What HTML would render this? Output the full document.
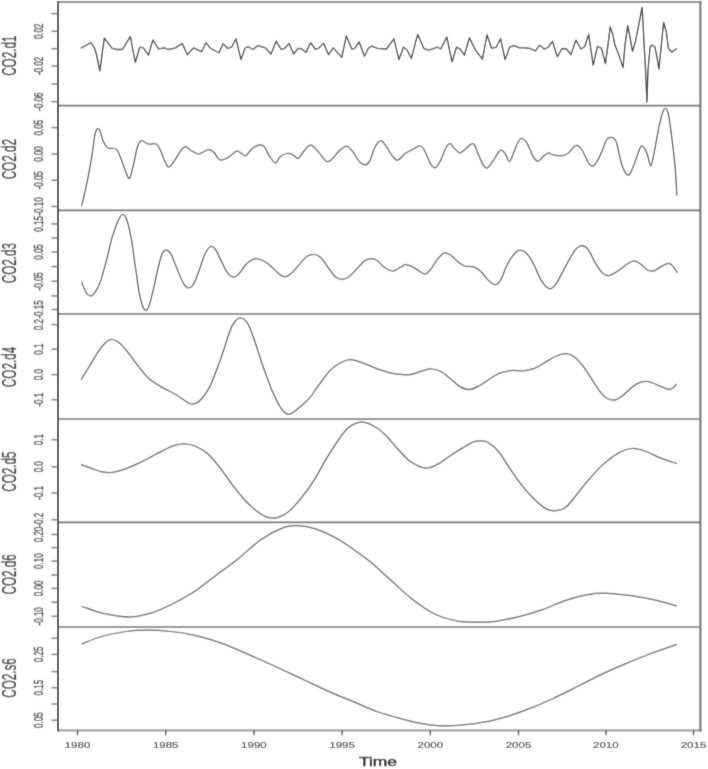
<!DOCTYPE html><html><head><meta charset="utf-8"><style>html,body{margin:0;padding:0;background:#fff;}svg{display:block;}text{font-family:"Liberation Sans",sans-serif;}</style></head><body>
<svg width="708" height="769" viewBox="0 0 708 769">
<defs><filter id="bl" filterUnits="userSpaceOnUse" x="0" y="0" width="708" height="769"><feConvolveMatrix order="3" kernelMatrix="0.0171 0.1258 0.0171 0.0728 0.5345 0.0728 0.0171 0.1258 0.0171" divisor="1" edgeMode="duplicate"/></filter></defs>
<g filter="url(#bl)"><rect x="0" y="0" width="708" height="769" fill="#fff"/>
<g fill="none" stroke="#6a6a6a" stroke-width="1.6">
<line x1="58" y1="105.6" x2="700.4" y2="105.6"/>
<line x1="58" y1="210.4" x2="700.4" y2="210.4"/>
<line x1="58" y1="314" x2="700.4" y2="314"/>
<line x1="58" y1="419" x2="700.4" y2="419"/>
<line x1="58" y1="522.4" x2="700.4" y2="522.4"/>
<line x1="58" y1="627" x2="700.4" y2="627"/>
</g>
<line x1="57.1" y1="2" x2="701.5" y2="2" stroke="#8a8a8a" stroke-width="1.8"/>
<line x1="57.1" y1="730.4" x2="701.5" y2="730.4" stroke="#a2a2a2" stroke-width="2.3"/>
<line x1="700.4" y1="1.1" x2="700.4" y2="731.5" stroke="#7a7a7a" stroke-width="2.2"/>
<line x1="58" y1="1.1" x2="58" y2="731.5" stroke="#444" stroke-width="1.9"/>
<g stroke="#707070" stroke-width="1.4">
<line x1="51.5" y1="13.6" x2="58" y2="13.6"/>
<line x1="51.5" y1="31.3" x2="58" y2="31.3"/>
<line x1="51.5" y1="48.6" x2="58" y2="48.6"/>
<line x1="51.5" y1="66" x2="58" y2="66"/>
<line x1="51.5" y1="84" x2="58" y2="84"/>
<line x1="51.5" y1="101.6" x2="58" y2="101.6"/>
<line x1="51.5" y1="127.6" x2="58" y2="127.6"/>
<line x1="51.5" y1="154" x2="58" y2="154"/>
<line x1="51.5" y1="180.3" x2="58" y2="180.3"/>
<line x1="51.5" y1="206.5" x2="58" y2="206.5"/>
<line x1="51.5" y1="223.9" x2="58" y2="223.9"/>
<line x1="51.5" y1="238" x2="58" y2="238"/>
<line x1="51.5" y1="252" x2="58" y2="252"/>
<line x1="51.5" y1="266.6" x2="58" y2="266.6"/>
<line x1="51.5" y1="281.3" x2="58" y2="281.3"/>
<line x1="51.5" y1="295.9" x2="58" y2="295.9"/>
<line x1="51.5" y1="309.5" x2="58" y2="309.5"/>
<line x1="51.5" y1="324.6" x2="58" y2="324.6"/>
<line x1="51.5" y1="349.2" x2="58" y2="349.2"/>
<line x1="51.5" y1="374.6" x2="58" y2="374.6"/>
<line x1="51.5" y1="399.7" x2="58" y2="399.7"/>
<line x1="51.5" y1="439.7" x2="58" y2="439.7"/>
<line x1="51.5" y1="466.8" x2="58" y2="466.8"/>
<line x1="51.5" y1="493" x2="58" y2="493"/>
<line x1="51.5" y1="519.8" x2="58" y2="519.8"/>
<line x1="51.5" y1="534.5" x2="58" y2="534.5"/>
<line x1="51.5" y1="547.6" x2="58" y2="547.6"/>
<line x1="51.5" y1="561.1" x2="58" y2="561.1"/>
<line x1="51.5" y1="575" x2="58" y2="575"/>
<line x1="51.5" y1="588.4" x2="58" y2="588.4"/>
<line x1="51.5" y1="602.2" x2="58" y2="602.2"/>
<line x1="51.5" y1="616.3" x2="58" y2="616.3"/>
<line x1="51.5" y1="638.2" x2="58" y2="638.2"/>
<line x1="51.5" y1="654.4" x2="58" y2="654.4"/>
<line x1="51.5" y1="671.6" x2="58" y2="671.6"/>
<line x1="51.5" y1="687.7" x2="58" y2="687.7"/>
<line x1="51.5" y1="704" x2="58" y2="704"/>
<line x1="51.5" y1="720.2" x2="58" y2="720.2"/>
</g>
<g stroke="#505050" stroke-width="1.4">
<line x1="77.5" y1="730.2" x2="77.5" y2="735.2"/>
<line x1="165.7" y1="730.2" x2="165.7" y2="735.2"/>
<line x1="253.9" y1="730.2" x2="253.9" y2="735.2"/>
<line x1="342.1" y1="730.2" x2="342.1" y2="735.2"/>
<line x1="430.3" y1="730.2" x2="430.3" y2="735.2"/>
<line x1="518.5" y1="730.2" x2="518.5" y2="735.2"/>
<line x1="605.9" y1="730.2" x2="605.9" y2="735.2"/>
<line x1="693.5" y1="730.2" x2="693.5" y2="735.2"/>
</g>
<g fill="#444" stroke="#444" stroke-width="0.25" font-size="8.0" text-anchor="middle">
<text transform="translate(42.7,31.3) rotate(-90) scale(1,1.66)" x="0" y="0">0.02</text>
<text transform="translate(42.7,66) rotate(-90) scale(1,1.66)" x="0" y="0">-0.02</text>
<text transform="translate(42.7,101.6) rotate(-90) scale(1,1.66)" x="0" y="0">-0.06</text>
<text transform="translate(42.7,127.6) rotate(-90) scale(1,1.66)" x="0" y="0">0.05</text>
<text transform="translate(42.7,154) rotate(-90) scale(1,1.66)" x="0" y="0">0.00</text>
<text transform="translate(42.7,180.3) rotate(-90) scale(1,1.66)" x="0" y="0">-0.05</text>
<text transform="translate(42.7,206.5) rotate(-90) scale(1,1.66)" x="0" y="0">-0.10</text>
<text transform="translate(42.7,223.9) rotate(-90) scale(1,1.66)" x="0" y="0">0.15</text>
<text transform="translate(42.7,252) rotate(-90) scale(1,1.66)" x="0" y="0">0.05</text>
<text transform="translate(42.7,281.3) rotate(-90) scale(1,1.66)" x="0" y="0">-0.05</text>
<text transform="translate(42.7,309.5) rotate(-90) scale(1,1.66)" x="0" y="0">-0.15</text>
<text transform="translate(42.7,324.6) rotate(-90) scale(1,1.66)" x="0" y="0">0.2</text>
<text transform="translate(42.7,349.2) rotate(-90) scale(1,1.66)" x="0" y="0">0.1</text>
<text transform="translate(42.7,374.6) rotate(-90) scale(1,1.66)" x="0" y="0">0.0</text>
<text transform="translate(42.7,399.7) rotate(-90) scale(1,1.66)" x="0" y="0">-0.1</text>
<text transform="translate(42.7,439.7) rotate(-90) scale(1,1.66)" x="0" y="0">0.1</text>
<text transform="translate(42.7,466.8) rotate(-90) scale(1,1.66)" x="0" y="0">0.0</text>
<text transform="translate(42.7,493) rotate(-90) scale(1,1.66)" x="0" y="0">-0.1</text>
<text transform="translate(42.7,519.8) rotate(-90) scale(1,1.66)" x="0" y="0">-0.2</text>
<text transform="translate(42.7,534.5) rotate(-90) scale(1,1.66)" x="0" y="0">0.20</text>
<text transform="translate(42.7,561.1) rotate(-90) scale(1,1.66)" x="0" y="0">0.10</text>
<text transform="translate(42.7,588.4) rotate(-90) scale(1,1.66)" x="0" y="0">0.00</text>
<text transform="translate(42.7,616.3) rotate(-90) scale(1,1.66)" x="0" y="0">-0.10</text>
<text transform="translate(42.7,654.4) rotate(-90) scale(1,1.66)" x="0" y="0">0.25</text>
<text transform="translate(42.7,687.7) rotate(-90) scale(1,1.66)" x="0" y="0">0.15</text>
<text transform="translate(42.7,720.2) rotate(-90) scale(1,1.66)" x="0" y="0">0.05</text>
<text transform="translate(77.5,747.9) scale(1.28,1)" font-size="9" stroke-width="0.15">1980</text>
<text transform="translate(165.7,747.9) scale(1.28,1)" font-size="9" stroke-width="0.15">1985</text>
<text transform="translate(253.9,747.9) scale(1.28,1)" font-size="9" stroke-width="0.15">1990</text>
<text transform="translate(342.1,747.9) scale(1.28,1)" font-size="9" stroke-width="0.15">1995</text>
<text transform="translate(430.3,747.9) scale(1.28,1)" font-size="9" stroke-width="0.15">2000</text>
<text transform="translate(518.5,747.9) scale(1.28,1)" font-size="9" stroke-width="0.15">2005</text>
<text transform="translate(605.9,747.9) scale(1.28,1)" font-size="9" stroke-width="0.15">2010</text>
<text transform="translate(693.5,747.9) scale(1.28,1)" font-size="9" stroke-width="0.15">2015</text>
</g>
<g fill="#3a3a3a" stroke="#3a3a3a" stroke-width="0.2" font-size="11.7" text-anchor="middle">
<text transform="translate(15.5,55.699999999999996) rotate(-90) scale(1,1.7)">CO2.d1</text>
<text transform="translate(15.5,159.20000000000002) rotate(-90) scale(1,1.7)">CO2.d2</text>
<text transform="translate(15.5,263.09999999999997) rotate(-90) scale(1,1.7)">CO2.d3</text>
<text transform="translate(15.5,367.0) rotate(-90) scale(1,1.7)">CO2.d4</text>
<text transform="translate(15.5,471.59999999999997) rotate(-90) scale(1,1.7)">CO2.d5</text>
<text transform="translate(15.5,574.4) rotate(-90) scale(1,1.7)">CO2.d6</text>
<text transform="translate(15.5,678.0) rotate(-90) scale(1,1.7)">CO2.s6</text>
</g>
<text transform="translate(378,766) scale(1.4,1)" font-size="12.5" fill="#2a2a2a" stroke="#2a2a2a" stroke-width="0.45" text-anchor="middle">Time</text>
<g fill="none" stroke="#3c3c3c" stroke-width="1.3" stroke-linejoin="round" stroke-linecap="round">
<path d="M81.3,47.9 L90.8,42.7 L94.2,47.2 L96.4,54.0 L99.8,70.9 L104.3,38.2 L112.2,48.3 L116.8,49.5 L122.4,49.5 L130.3,36.6 L135.3,62.3 L139.8,47.2 L143.4,47.9 L148.4,55.1 L152.9,40.0 L158.6,48.8 L164.2,47.9 L168.7,49.5 L175.5,47.9 L182.3,43.4 L187.3,54.7 L193.6,47.9 L201.5,51.7 L206.0,42.7 L210.5,48.3 L219.0,52.8 L223.1,43.8 L227.6,48.3 L231.5,47.2 L236.0,38.8 L241.0,59.6 L245.0,48.3 L248.0,46.7 L252.9,49.5 L258.1,45.6 L265.4,47.9 L271.0,54.0 L276.2,41.1 L281.2,49.5 L284.6,48.3 L289.1,43.4 L293.6,54.0 L298.1,48.3 L301.5,48.8 L306.0,52.4 L310.6,42.7 L315.1,49.0 L318.5,48.3 L323.7,43.4 L328.6,54.7 L333.2,47.9 L341.8,57.4 L346.3,35.9 L351.9,49.0 L354.6,48.3 L359.2,42.0 L364.4,56.2 L368.4,48.3 L371.8,46.1 L377.4,48.3 L386.5,49.0 L393.9,38.8 L398.9,59.6 L403.4,47.2 L406.8,49.5 L411.3,58.5 L417.7,34.3 L423.8,48.3 L428.3,50.1 L432.8,48.8 L437.3,47.2 L440.7,49.0 L446.8,37.0 L452.0,61.9 L456.5,47.2 L459.9,48.8 L464.4,55.1 L469.4,37.7 L475.7,50.6 L482.5,59.0 L487.0,34.8 L491.6,48.3 L496.1,47.2 L500.6,38.8 L505.1,59.6 L509.6,47.2 L514.2,45.6 L519.8,47.9 L525.1,47.8 L530.2,48.5 L535.3,50.8 L539.8,45.2 L544.2,49.0 L548.0,47.3 L552.5,41.4 L557.4,56.7 L562.0,48.5 L566.5,49.0 L570.9,54.6 L575.9,40.1 L581.0,49.0 L584.8,46.5 L588.7,34.5 L593.2,65.1 L597.5,46.5 L600.9,47.8 L602.0,50.0 L605.4,63.6 L607.4,49.4 L610.2,27.0 L612.9,34.5 L614.9,45.3 L618.3,53.4 L623.0,67.6 L625.0,45.3 L627.7,25.7 L629.8,35.8 L632.5,51.4 L635.2,42.6 L638.6,25.7 L640.6,15.5 L642.0,7.4 L643.0,22.3 L644.0,42.6 L645.3,65.6 L646.7,95.4 L646.9,102.0 L648.0,69.7 L650.1,46.7 L652.1,45.0 L654.8,46.7 L656.8,56.1 L658.9,69.0 L660.9,49.4 L663.6,22.3 L666.3,31.8 L668.3,48.0 L671.7,52.1 L676.5,48.7"/>
</g>
<g fill="none" stroke="#555" stroke-width="1.25" stroke-linejoin="round" stroke-linecap="round">
<path d="M81.7,205.4 C82.7,201.3 85.7,188.9 87.4,180.6 C89.1,172.3 90.6,163.6 91.9,155.7 C93.2,147.8 94.1,137.5 95.3,133.1 C96.5,128.7 97.8,128.0 99.1,129.3 C100.4,130.6 101.8,137.9 103.2,141.0 C104.6,144.1 105.8,146.6 107.7,147.8 C109.6,149.1 112.8,147.9 114.5,148.5 C116.2,149.1 116.6,148.9 117.9,151.2 C119.2,153.5 120.9,158.6 122.4,162.5 C123.9,166.4 125.7,172.3 126.9,174.9 C128.2,177.5 128.8,179.8 129.9,177.9 C131.0,176.0 132.4,168.8 133.7,163.6 C135.0,158.4 136.2,150.5 137.5,146.7 C138.8,142.9 139.8,141.0 141.6,140.6 C143.4,140.2 145.9,143.4 148.4,144.0 C150.9,144.6 154.2,142.8 156.3,144.0 C158.4,145.2 159.3,148.1 160.8,151.2 C162.3,154.3 163.9,159.9 165.3,162.5 C166.7,165.1 167.5,167.6 169.2,167.0 C170.9,166.4 173.5,161.9 175.5,159.1 C177.5,156.3 179.5,152.2 181.2,150.1 C182.9,148.0 184.0,146.6 185.7,146.7 C187.4,146.8 189.2,149.5 191.3,150.7 C193.4,151.9 196.2,153.6 198.1,153.9 C200.0,154.2 200.9,153.0 202.6,152.3 C204.3,151.6 206.4,149.6 208.3,149.6 C210.2,149.6 212.3,150.8 213.9,152.3 C215.5,153.8 216.8,157.1 218.0,158.4 C219.2,159.7 219.6,160.3 221.3,160.2 C223.0,160.0 225.5,159.0 228.1,157.5 C230.7,156.0 234.4,151.9 236.7,151.2 C238.9,150.5 240.1,152.8 241.6,153.5 C243.1,154.2 244.0,156.5 245.7,155.7 C247.4,154.9 249.5,150.7 251.8,148.9 C254.1,147.1 257.6,145.3 259.7,144.9 C261.8,144.5 262.5,144.7 264.2,146.7 C265.9,148.7 268.0,154.1 269.9,156.8 C271.8,159.5 273.8,163.0 275.5,163.0 C277.2,163.0 278.2,158.4 280.1,156.8 C282.0,155.2 284.7,153.9 286.8,153.5 C288.9,153.1 290.6,153.8 292.5,154.6 C294.4,155.4 296.2,159.0 298.1,158.4 C300.0,157.8 301.7,153.4 303.8,151.2 C305.9,149.0 308.2,145.0 310.6,145.1 C313.1,145.2 315.9,149.2 318.5,151.9 C321.1,154.6 324.1,160.2 326.4,161.4 C328.6,162.6 329.9,160.8 332.0,159.1 C334.1,157.4 336.4,153.4 338.8,151.2 C341.2,149.0 344.4,146.0 346.7,146.0 C349.0,146.0 350.3,148.6 352.4,151.2 C354.5,153.8 357.1,159.1 359.2,161.4 C361.3,163.7 363.1,164.8 364.8,164.8 C366.5,164.8 367.8,164.4 369.5,161.4 C371.2,158.4 373.3,150.2 375.2,146.7 C377.1,143.2 378.9,140.6 380.8,140.6 C382.7,140.6 384.6,144.2 386.5,146.7 C388.4,149.2 390.2,153.4 392.1,155.7 C394.0,157.9 395.7,160.5 397.8,160.2 C399.9,159.9 402.1,155.9 404.5,154.1 C406.9,152.3 409.9,150.8 412.5,149.4 C415.1,148.1 418.3,145.7 420.4,146.0 C422.5,146.3 423.2,148.3 424.9,151.2 C426.6,154.1 428.7,160.8 430.5,163.6 C432.3,166.3 433.8,168.3 435.5,167.7 C437.2,167.1 438.9,163.7 440.7,160.2 C442.5,156.7 444.8,149.4 446.4,146.7 C448.0,143.9 449.0,143.3 450.4,143.7 C451.8,144.1 453.3,147.4 454.9,148.9 C456.5,150.4 458.1,152.8 459.9,152.8 C461.7,152.8 463.4,150.4 465.6,148.9 C467.8,147.4 470.9,142.9 473.0,143.7 C475.1,144.5 476.4,150.2 478.0,153.5 C479.6,156.8 481.0,161.2 482.5,163.6 C484.0,166.0 485.3,168.5 487.0,168.1 C488.7,167.7 490.5,164.3 492.7,161.4 C494.9,158.5 498.0,151.8 500.1,150.5 C502.2,149.2 503.5,151.7 505.1,153.5 C506.7,155.3 508.1,161.8 509.6,161.4 C511.1,161.0 512.7,154.6 514.2,151.2 C515.7,147.8 517.3,143.1 518.7,141.0 C520.1,138.9 521.0,138.0 522.5,138.5 C524.0,139.0 525.9,141.2 527.6,144.1 C529.3,146.9 531.0,152.7 532.7,155.6 C534.4,158.5 536.1,161.2 537.8,161.4 C539.5,161.6 541.2,158.3 542.9,156.9 C544.6,155.5 546.1,153.3 548.0,153.0 C549.9,152.7 551.8,154.7 554.3,155.1 C556.8,155.5 560.9,155.9 563.2,155.6 C565.5,155.2 566.1,154.7 568.3,153.0 C570.5,151.3 574.1,145.8 576.4,145.4 C578.7,145.0 580.3,147.5 582.3,150.5 C584.3,153.5 586.7,160.6 588.6,163.2 C590.5,165.8 591.8,167.1 593.7,165.8 C595.6,164.5 598.0,159.8 600.1,155.6 C602.2,151.3 604.6,143.4 606.4,140.3 C608.2,137.2 609.4,137.1 611.0,137.3 C612.6,137.5 614.3,137.1 616.1,141.6 C617.9,146.1 619.7,158.9 621.7,164.5 C623.7,170.1 626.2,174.8 628.1,175.2 C630.0,175.6 631.2,171.3 633.1,167.0 C635.0,162.7 637.9,152.7 639.5,149.2 C641.1,145.7 641.3,145.4 642.6,146.2 C643.9,147.0 645.7,150.5 647.1,153.8 C648.5,157.1 649.6,166.6 650.9,165.8 C652.2,165.0 653.4,156.0 654.8,149.2 C656.2,142.4 657.8,131.7 659.3,125.1 C660.8,118.5 662.2,111.9 663.7,109.8 C665.2,107.7 666.6,107.5 668.0,112.4 C669.4,117.3 670.8,130.0 672.0,139.1 C673.2,148.2 674.3,157.7 675.1,167.0 C675.9,176.3 676.6,190.3 676.9,195.0"/>
<path d="M81.7,282.3 C82.5,284.0 84.6,290.2 86.2,292.5 C87.8,294.8 89.7,296.3 91.4,295.9 C93.1,295.5 94.8,292.8 96.4,290.2 C98.0,287.6 99.2,285.2 100.9,280.1 C102.6,275.0 104.7,266.9 106.6,259.7 C108.5,252.5 110.3,243.5 112.2,237.1 C114.1,230.7 116.2,225.1 117.9,221.3 C119.6,217.5 120.9,214.7 122.4,214.5 C123.9,214.3 125.4,216.0 126.9,220.2 C128.4,224.3 129.9,230.9 131.4,239.4 C132.9,247.9 134.6,261.6 136.0,271.0 C137.4,280.4 138.4,289.5 139.8,295.9 C141.2,302.3 142.9,307.5 144.3,309.4 C145.7,311.3 147.0,310.2 148.4,307.2 C149.8,304.2 151.4,297.4 152.9,291.4 C154.4,285.4 155.9,277.2 157.4,271.0 C158.9,264.8 160.5,257.6 162.0,254.1 C163.5,250.6 165.0,250.2 166.5,250.2 C168.0,250.2 169.3,251.2 171.0,254.1 C172.7,257.0 174.7,263.1 176.6,267.6 C178.5,272.1 180.6,277.9 182.3,281.2 C184.0,284.5 185.1,286.6 186.8,287.3 C188.5,288.1 190.6,288.0 192.5,285.7 C194.4,283.4 196.1,278.4 198.1,273.3 C200.1,268.2 202.3,259.7 204.4,255.2 C206.5,250.7 208.7,247.5 210.5,246.5 C212.3,245.5 213.5,247.0 215.1,249.0 C216.7,251.0 218.2,254.8 220.2,258.6 C222.2,262.5 224.8,269.0 227.0,272.1 C229.2,275.2 231.6,276.9 233.7,277.1 C235.8,277.3 237.3,275.5 239.4,273.3 C241.5,271.1 243.6,266.6 246.2,264.2 C248.8,261.8 252.4,259.2 255.2,258.6 C258.0,258.0 260.7,259.7 263.1,260.8 C265.6,261.9 267.4,263.4 269.9,265.4 C272.3,267.4 275.4,270.9 277.8,272.8 C280.2,274.7 282.3,276.6 284.6,276.7 C286.9,276.8 288.8,275.6 291.4,273.3 C294.0,271.0 297.8,265.9 300.4,263.1 C303.0,260.3 304.9,257.7 307.2,256.3 C309.5,254.9 312.1,254.3 314.4,254.5 C316.6,254.7 318.5,255.5 320.7,257.5 C322.9,259.5 325.1,263.3 327.5,266.5 C329.9,269.7 332.9,274.6 335.4,276.7 C337.8,278.8 339.9,279.4 342.2,279.4 C344.5,279.4 346.6,278.5 349.0,276.7 C351.4,274.9 354.3,271.4 356.9,268.8 C359.5,266.2 362.3,262.5 364.8,260.8 C367.3,259.1 369.7,258.6 371.8,258.6 C373.9,258.6 375.3,259.4 377.4,260.8 C379.5,262.2 381.8,265.5 384.2,267.2 C386.6,268.9 389.7,270.8 392.1,271.0 C394.6,271.2 396.7,269.4 398.9,268.3 C401.1,267.2 402.9,264.9 405.2,264.7 C407.5,264.5 410.2,265.8 412.5,266.9 C414.8,267.9 417.1,269.8 419.2,271.0 C421.3,272.2 423.2,274.0 424.9,274.0 C426.6,274.0 427.3,273.4 429.4,271.0 C431.5,268.6 434.9,262.7 437.3,259.7 C439.8,256.7 441.8,253.7 444.1,252.9 C446.4,252.2 448.6,253.8 450.9,255.2 C453.2,256.6 455.4,259.7 457.7,261.5 C459.9,263.3 461.8,265.1 464.4,266.0 C467.0,266.9 470.9,266.1 473.5,266.9 C476.1,267.7 477.9,268.8 480.3,271.0 C482.8,273.2 485.8,277.8 488.2,280.1 C490.6,282.4 492.8,284.6 494.9,284.6 C497.0,284.6 498.5,283.5 500.6,280.1 C502.7,276.7 505.1,268.5 507.4,264.2 C509.7,259.9 512.1,256.4 514.2,254.1 C516.3,251.8 517.8,250.3 519.8,250.2 C521.8,250.0 524.0,250.8 526.4,253.2 C528.8,255.6 531.5,260.0 534.0,264.7 C536.5,269.4 538.9,277.2 541.6,281.2 C544.3,285.2 547.5,288.6 550.0,288.8 C552.5,289.0 554.3,286.3 556.9,282.5 C559.5,278.7 562.8,271.2 565.8,265.9 C568.8,260.6 572.1,254.1 574.7,250.7 C577.3,247.3 579.3,245.8 581.5,245.6 C583.7,245.4 585.6,246.2 588.1,249.4 C590.6,252.6 593.9,260.8 596.3,264.7 C598.7,268.6 600.5,271.3 602.6,273.1 C604.7,274.9 606.5,276.0 609.0,275.6 C611.5,275.2 614.9,272.9 617.9,271.0 C620.9,269.1 624.1,265.9 626.8,264.2 C629.5,262.5 631.6,260.9 633.9,260.9 C636.2,260.9 638.6,262.7 640.8,264.2 C643.0,265.7 645.0,268.7 647.1,269.8 C649.2,270.9 651.0,271.6 653.5,271.0 C656.0,270.4 659.9,267.2 662.4,265.9 C664.9,264.6 667.0,263.4 668.7,263.4 C670.4,263.4 671.2,264.4 672.6,265.9 C674.0,267.4 676.4,271.2 677.1,272.3"/>
<path d="M81.3,379.3 C82.6,377.2 86.2,371.5 89.1,366.8 C91.9,362.1 95.6,355.4 98.4,351.3 C101.2,347.2 103.9,344.0 106.2,342.0 C108.5,340.0 110.1,339.2 112.4,339.5 C114.7,339.8 117.4,341.0 120.2,343.5 C123.0,346.0 126.4,350.5 129.5,354.4 C132.6,358.3 135.7,362.9 138.8,366.8 C141.9,370.7 144.5,374.4 148.1,377.7 C151.7,381.0 155.8,383.5 160.5,386.4 C165.2,389.2 171.9,392.4 176.1,394.8 C180.2,397.2 182.7,399.4 185.4,401.0 C188.2,402.6 190.0,404.4 192.6,404.1 C195.2,403.9 197.9,402.6 200.9,399.5 C203.9,396.4 207.1,392.0 210.3,385.5 C213.5,379.0 217.8,366.4 220.0,360.6 C222.2,354.8 222.2,354.6 223.5,350.7 C224.8,346.8 226.3,341.4 227.8,337.0 C229.3,332.6 231.2,327.5 232.7,324.6 C234.2,321.7 235.6,320.5 237.0,319.4 C238.4,318.3 239.5,317.8 240.9,318.0 C242.3,318.2 243.9,318.8 245.4,320.4 C246.9,322.0 248.2,324.0 249.7,327.4 C251.2,330.8 253.1,336.4 254.6,340.8 C256.1,345.2 257.5,349.5 258.8,353.5 C260.1,357.5 261.1,361.0 262.4,364.8 C263.7,368.6 265.2,372.3 266.6,376.1 C268.0,379.9 269.4,383.9 270.8,387.4 C272.2,390.9 273.7,394.2 275.1,397.3 C276.5,400.4 277.8,403.3 279.3,405.8 C280.8,408.3 282.8,410.8 284.3,412.2 C285.8,413.6 287.0,414.3 288.5,414.3 C290.0,414.3 291.4,413.5 293.4,412.2 C295.4,410.9 297.9,408.8 300.5,406.5 C303.1,404.2 306.4,401.6 309.0,398.7 C311.6,395.8 314.2,391.4 316.0,388.9 C317.8,386.4 317.3,387.1 319.7,383.9 C322.1,380.7 327.0,373.5 330.6,369.9 C334.2,366.3 338.1,363.9 341.5,362.2 C344.9,360.5 347.2,359.5 350.8,359.7 C354.4,359.9 358.5,361.5 363.2,363.1 C367.9,364.7 373.6,367.5 378.8,369.3 C384.0,371.1 389.1,372.8 394.3,373.7 C399.5,374.6 405.1,375.1 409.8,374.6 C414.5,374.1 418.7,371.8 422.3,370.9 C425.9,370.0 428.5,368.9 431.6,369.0 C434.7,369.1 437.8,369.9 440.9,371.5 C444.0,373.1 447.1,376.1 450.2,378.6 C453.3,381.1 456.5,384.6 459.6,386.4 C462.7,388.2 465.8,389.5 468.9,389.5 C472.0,389.5 474.8,388.1 478.2,386.4 C481.6,384.7 485.9,381.4 489.3,379.3 C492.7,377.2 495.0,375.1 498.6,373.7 C502.2,372.2 507.0,371.1 511.1,370.6 C515.2,370.1 519.6,371.3 523.5,370.9 C527.4,370.5 530.8,369.8 534.4,368.4 C538.0,366.9 541.7,364.3 545.3,362.2 C548.9,360.1 552.7,357.4 556.1,356.0 C559.5,354.6 562.6,353.5 565.5,353.5 C568.4,353.5 570.4,354.0 573.2,356.0 C576.0,358.0 579.4,361.4 582.5,365.3 C585.6,369.2 588.8,374.7 591.9,379.3 C595.0,383.9 598.6,390.0 601.2,393.2 C603.8,396.4 605.2,397.4 607.4,398.5 C609.6,399.6 611.6,400.6 614.2,400.1 C616.8,399.6 619.9,397.6 622.9,395.4 C625.9,393.2 629.4,389.2 632.3,387.0 C635.1,384.8 637.4,383.3 640.0,382.4 C642.6,381.5 644.9,381.0 647.8,381.4 C650.6,381.8 653.7,383.6 657.1,384.9 C660.5,386.2 665.4,388.7 668.0,389.2 C670.6,389.7 671.3,388.8 672.7,388.0 C674.1,387.2 675.8,385.1 676.4,384.5"/>
<path d="M81.3,464.7 C83.1,465.4 88.8,467.5 92.2,468.7 C95.6,469.9 98.1,471.2 101.5,471.8 C104.9,472.4 108.8,472.8 112.4,472.4 C116.0,472.0 118.9,471.2 123.3,469.7 C127.7,468.1 134.2,465.2 138.8,463.1 C143.5,461.0 147.0,459.1 151.2,456.9 C155.3,454.7 159.8,452.0 163.7,450.1 C167.6,448.2 171.1,446.4 174.5,445.4 C177.9,444.4 180.5,443.8 183.9,443.9 C187.3,444.0 190.8,444.4 194.7,446.0 C198.6,447.6 203.0,449.7 207.2,453.2 C211.3,456.7 215.5,462.0 219.6,467.2 C223.7,472.4 227.8,478.9 232.0,484.3 C236.2,489.7 240.3,495.3 244.5,499.8 C248.7,504.3 253.3,508.5 256.9,511.3 C260.5,514.1 263.3,515.8 266.2,516.9 C269.1,518.0 271.8,518.2 274.0,518.2 C276.2,518.2 276.9,518.0 279.3,516.9 C281.7,515.8 285.0,514.7 288.6,511.6 C292.2,508.5 297.0,503.3 301.1,498.2 C305.2,493.1 309.4,487.6 313.5,481.1 C317.6,474.6 322.0,465.9 325.9,459.4 C329.8,452.9 333.2,447.5 336.8,442.3 C340.4,437.1 343.8,431.7 347.7,428.3 C351.6,424.9 356.0,422.6 360.1,422.1 C364.2,421.6 368.4,423.1 372.5,425.2 C376.6,427.3 380.9,430.6 385.0,434.5 C389.1,438.4 393.3,444.1 397.4,448.5 C401.5,452.9 405.1,457.7 409.8,461.0 C414.5,464.3 420.7,467.6 425.4,468.1 C430.1,468.6 433.7,466.2 437.8,464.1 C441.9,462.0 446.1,458.4 450.2,455.7 C454.3,453.0 458.5,450.3 462.7,447.9 C466.9,445.5 471.5,442.5 475.1,441.4 C478.7,440.3 482.0,440.9 484.4,441.2 C486.8,441.5 486.9,441.5 489.3,443.2 C491.7,444.9 495.0,447.1 498.6,451.6 C502.2,456.1 507.0,464.3 511.1,470.3 C515.2,476.3 519.4,482.3 523.5,487.4 C527.6,492.5 532.0,497.1 535.9,500.7 C539.8,504.3 543.4,507.4 546.8,509.1 C550.2,510.8 553.0,510.9 556.1,510.7 C559.2,510.4 562.1,510.2 565.5,507.6 C568.9,505.0 572.4,499.8 576.3,495.1 C580.2,490.4 584.1,484.9 588.8,479.6 C593.5,474.3 599.1,467.9 604.3,463.4 C609.5,458.8 615.1,454.8 619.8,452.3 C624.5,449.8 628.1,448.7 632.3,448.5 C636.4,448.3 640.1,449.4 644.7,451.0 C649.4,452.6 654.9,455.7 660.2,457.8 C665.5,459.9 673.7,462.5 676.4,463.4"/>
<path d="M82.0,606.5 C85.5,607.6 95.2,611.6 103.2,613.3 C111.2,615.0 122.0,617.0 130.3,616.9 C138.6,616.8 146.1,614.4 152.9,612.4 C159.7,610.4 164.2,608.1 171.0,604.7 C177.8,601.3 186.1,597.0 193.6,592.1 C201.1,587.2 208.7,580.9 216.2,575.3 C223.7,569.6 231.3,564.2 238.8,558.2 C246.3,552.2 253.9,544.3 261.4,539.2 C268.9,534.1 278.0,529.7 284.0,527.4 C290.0,525.1 292.2,525.4 297.5,525.6 C302.8,525.8 308.8,526.5 315.6,528.8 C322.4,531.1 331.4,535.4 338.2,539.2 C345.0,543.0 351.0,547.7 356.3,551.4 C361.6,555.1 364.2,556.8 370.0,561.6 C375.8,566.4 384.0,574.1 391.0,580.3 C398.0,586.5 404.6,593.2 412.0,598.9 C419.4,604.6 427.5,610.6 435.3,614.3 C443.1,618.0 451.7,620.0 458.6,621.3 C465.6,622.6 470.8,622.0 477.0,622.0 C483.2,622.0 488.9,622.2 495.9,621.3 C502.9,620.4 511.4,618.5 519.2,616.6 C527.0,614.7 534.7,612.3 542.5,609.6 C550.3,606.9 558.0,602.8 565.8,600.3 C573.6,597.8 582.1,595.5 589.1,594.3 C596.1,593.1 600.8,593.1 607.8,593.3 C614.8,593.5 623.3,594.6 631.1,595.7 C638.9,596.8 646.9,598.2 654.4,599.9 C661.9,601.6 672.6,604.9 676.3,605.9"/>
<path d="M82.0,643.7 C85.5,642.4 95.9,638.0 103.2,636.0 C110.5,634.0 118.3,632.5 125.8,631.5 C133.3,630.5 140.9,630.2 148.4,630.2 C155.9,630.2 163.5,630.7 171.0,631.5 C178.5,632.3 185.3,633.2 193.6,635.1 C201.9,637.0 211.7,639.6 220.7,642.8 C229.7,646.0 238.8,650.2 247.8,654.1 C256.8,658.0 265.8,662.1 274.9,666.3 C283.9,670.4 293.1,674.8 302.1,679.0 C311.2,683.2 320.2,687.6 329.2,691.6 C338.2,695.6 348.2,699.5 356.3,702.9 C364.4,706.3 371.8,709.7 378.0,712.0 C384.2,714.3 386.9,714.7 393.3,716.5 C399.7,718.3 408.8,721.1 416.6,722.6 C424.4,724.1 432.1,725.4 439.9,725.8 C447.7,726.2 455.4,725.6 463.2,724.9 C471.0,724.2 478.8,723.1 486.6,721.6 C494.4,720.1 502.1,718.0 509.9,715.6 C517.7,713.2 525.4,710.3 533.2,707.2 C541.0,704.1 548.7,700.5 556.5,696.9 C564.3,693.2 572.0,689.2 579.8,685.3 C587.6,681.4 595.3,677.2 603.1,673.6 C610.9,670.0 618.6,666.7 626.4,663.4 C634.2,660.1 641.4,657.1 649.7,654.0 C658.0,650.9 671.9,646.2 676.3,644.7"/>
</g>
</g></svg></body></html>
